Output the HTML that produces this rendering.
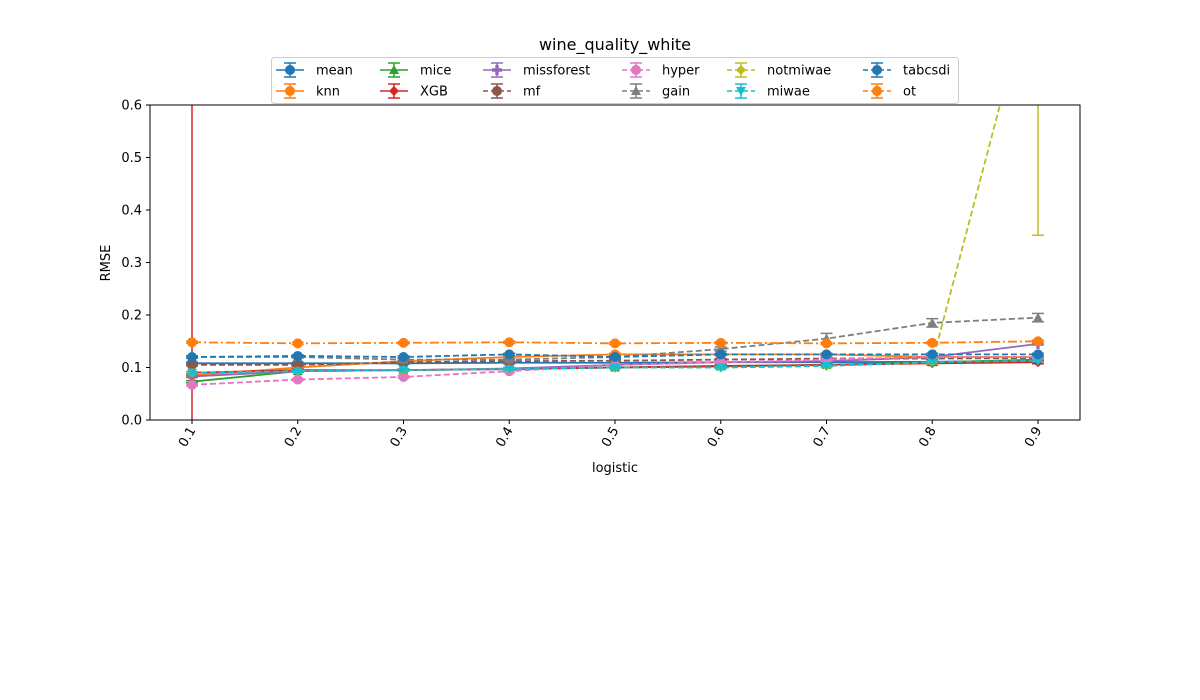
<!DOCTYPE html>
<html><head><meta charset="utf-8"><style>
html,body{margin:0;padding:0;background:#fff;overflow:hidden;width:1200px;height:700px;font-family:"Liberation Sans","DejaVu Sans",sans-serif}
svg{display:block}
svg text{font-family:"DejaVu Sans","Liberation Sans",sans-serif;font-size:13px;fill:#000}
</style></head><body>
<svg id="c" width="1200" height="700" xmlns="http://www.w3.org/2000/svg">
<defs><clipPath id="pc"><rect x="150" y="105" width="930" height="315"/></clipPath></defs>
<g id="plot" clip-path="url(#pc)"></g>
<g id="axes"></g>
<g id="leg"></g>
</svg>
<script>
const categories=[0.1,0.2,0.3,0.4,0.5,0.6,0.7,0.8,0.9];
const yTicks=[0.0,0.1,0.2,0.3,0.4,0.5,0.6];
const names=["mean","knn","mice","XGB","missforest","mf","hyper","gain","notmiwae","miwae","tabcsdi","ot"];
const meanV=[0.108,0.108,0.108,0.109,0.109,0.110,0.110,0.111,0.113];
const knnV=[0.085,0.100,0.112,0.120,0.125,0.125,0.125,0.120,0.120];
const miceV=[0.073,0.093,0.095,0.097,0.100,0.102,0.105,0.110,0.115];
const xgbV=[0.090,0.095,0.095,0.097,0.100,0.103,0.105,0.108,0.110];
const xgbE=[0.9,0.002,0.002,0.002,0.002,0.002,0.002,0.003,0.003];
const missforestV=[0.083,0.093,0.095,0.098,0.105,0.110,0.112,0.120,0.145];
const mfV=[0.105,0.105,0.110,0.112,0.113,0.115,0.117,0.117,0.118];
const hyperV=[0.067,0.077,0.082,0.093,0.105,0.110,0.115,0.120,0.120];
const gainV=[0.120,0.120,0.115,0.115,0.120,0.135,0.155,0.185,0.195];
const gainE=[0.002,0.002,0.002,0.002,0.002,0.004,0.010,0.008,0.008];
const notmiwaeV=[0.090,0.093,0.095,0.097,0.100,0.100,0.103,0.110,0.875];
const notmiwaeE=[0.002,0.002,0.002,0.002,0.002,0.002,0.002,0.003,0.523];
const miwaeV=[0.090,0.093,0.095,0.097,0.100,0.100,0.103,0.110,0.113];
const tabcsdiV=[0.120,0.122,0.120,0.125,0.120,0.125,0.125,0.125,0.125];
const otV=[0.148,0.146,0.147,0.148,0.146,0.147,0.146,0.147,0.150];
const styles={
mean:["#1f77b4","","o"],knn:["#ff7f0e","","o"],mice:["#2ca02c","","^"],XGB:["#d62728","","D"],
missforest:["#9467bd","","P"],mf:["#8c564b","6,3","o"],hyper:["#e377c2","6,3","o"],gain:["#7f7f7f","6,3","^"],
notmiwae:["#bcbd22","6,3","D"],miwae:["#17becf","6,3","v"],tabcsdi:["#1f77b4","6,3","o"],ot:["#ff7f0e","9,3,2,3","o"]};
const vals={mean:meanV,knn:knnV,mice:miceV,XGB:xgbV,missforest:missforestV,mf:mfV,hyper:hyperV,gain:gainV,notmiwae:notmiwaeV,miwae:miwaeV,tabcsdi:tabcsdiV,ot:otV};
const errs={XGB:xgbE,gain:gainE,notmiwae:notmiwaeE};
const NS="http://www.w3.org/2000/svg";
const X=v=>192+(v-0.1)/0.8*846, Y=v=>420-v/0.6*315;
function mk(t,a,p){const e=document.createElementNS(NS,t);for(const k in a)e.setAttribute(k,a[k]);p.appendChild(e);return e;}
function marker(m,x,y,c,p,s){s=s||5;
 if(m==="o")return mk("circle",{cx:x,cy:y,r:s,fill:c},p);
 if(m==="^")return mk("polygon",{points:`${x},${y-s} ${x-s},${y+s*0.8} ${x+s},${y+s*0.8}`,fill:c},p);
 if(m==="v")return mk("polygon",{points:`${x},${y+s} ${x-s},${y-s*0.8} ${x+s},${y-s*0.8}`,fill:c},p);
 if(m==="D")return mk("polygon",{points:`${x},${y-s} ${x+s},${y} ${x},${y+s} ${x-s},${y}`,fill:c},p);
 return mk("path",{d:`M${x-s},${y-1.7}h${s-1.7}v-${s-1.7}h3.4v${s-1.7}h${s-1.7}v3.4h-${s-1.7}v${s-1.7}h-3.4v-${s-1.7}h-${s-1.7}z`,fill:c},p);}
const plot=document.getElementById('plot'),axes=document.getElementById('axes'),leg=document.getElementById('leg');
names.forEach(n=>{const [c,d,m]=styles[n];const v=vals[n];
 const g=mk("g",{},plot);
 
 
 const pts=categories.map((x,i)=>X(x)+","+Y(v[i])).join(" ");
 mk("polyline",{points:pts,fill:"none",stroke:c,"stroke-width":1.8,"stroke-dasharray":d},g);
 categories.forEach((x,i)=>{const e=(errs[n]||[])[i]||0.002;const px=X(x);
  mk("line",{x1:px,x2:px,y1:Y(v[i]-e),y2:Y(v[i]+e),stroke:c,"stroke-width":1.5},g);
  [v[i]-e,v[i]+e].forEach(q=>mk("line",{x1:px-6,x2:px+6,y1:Y(q),y2:Y(q),stroke:c,"stroke-width":1.5},g));
  const mm=marker(m,px,Y(v[i]),c,g);
  
  
 });
});
mk("rect",{x:150,y:105,width:930,height:315,fill:"none",stroke:"#000","stroke-width":1},axes);
yTicks.forEach(t=>{const y=Y(t);mk("line",{x1:146,x2:150,y1:y,y2:y,stroke:"#000"},axes);
 const tx=mk("text",{x:142,y:y+4.5,"text-anchor":"end"},axes);tx.textContent=t.toFixed(1);
 
 });
categories.forEach(t=>{const x=X(t);mk("line",{x1:x,x2:x,y1:420,y2:424,stroke:"#000"},axes);
 const tx=mk("text",{x:0,y:0,"text-anchor":"end",transform:`translate(${x+4},${430}) rotate(-60)`},axes);tx.textContent=t.toFixed(1);
 
 });
let t=mk("text",{x:615,y:472,"text-anchor":"middle"},axes);t.textContent="logistic";


t=mk("text",{x:0,y:0,"text-anchor":"middle",transform:"translate(110,263) rotate(-90)"},axes);t.textContent="RMSE";


t=mk("text",{x:615,y:50,"text-anchor":"middle"},axes);t.setAttribute("style","font-size:16px");t.textContent="wine_quality_white";


mk("rect",{x:271.5,y:57.5,width:687,height:46,rx:3,fill:"#fff",stroke:"#ccc"},leg);
const colX=[276,380,483,622,727,863];
names.forEach((n,i)=>{const [c,d,m]=styles[n];const cx=colX[Math.floor(i/2)],cy=i%2?91:70;
 const g=mk("g",{},leg);
 
 
 mk("line",{x1:cx,x2:cx+28,y1:cy,y2:cy,stroke:c,"stroke-width":1.6,"stroke-dasharray":d?"5,3":""},g);
 mk("line",{x1:cx+14,x2:cx+14,y1:cy-7,y2:cy+7,stroke:c,"stroke-width":1.5},g);
 mk("line",{x1:cx+8,x2:cx+20,y1:cy-7,y2:cy-7,stroke:c,"stroke-width":1.5},g);
 mk("line",{x1:cx+8,x2:cx+20,y1:cy+7,y2:cy+7,stroke:c,"stroke-width":1.5},g);
 marker(m,cx+14,cy,c,g);
 const tx=mk("text",{x:cx+40,y:cy+4.5},g);tx.textContent=n;});
</script>
</body></html>
